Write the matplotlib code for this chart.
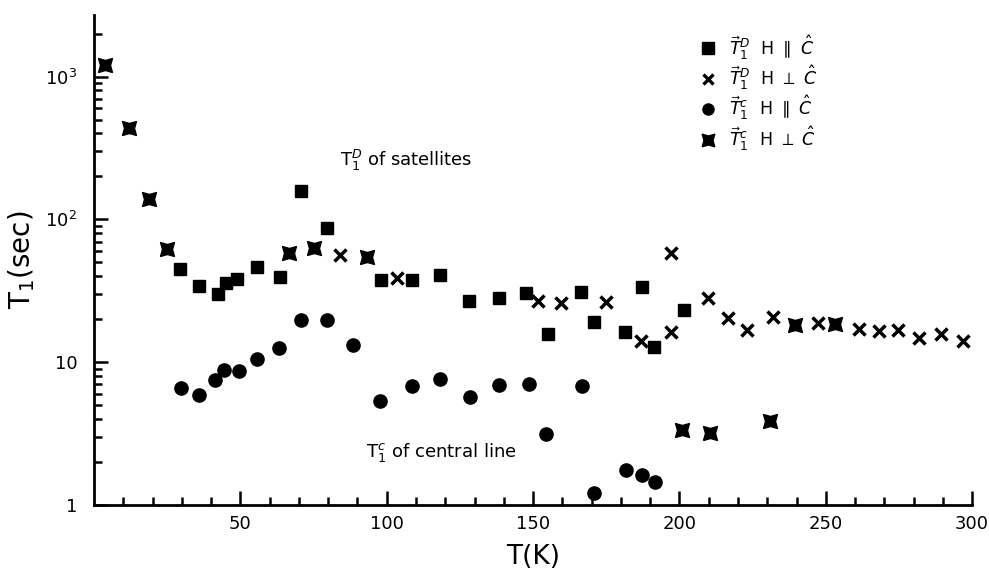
import matplotlib.pyplot as plt
from matplotlib.lines import Line2D

# T1^D, H || c  (squares)
t_sq = [29.3, 35.8, 42.3, 45.2, 48.8, 55.7, 63.6, 70.6, 79.6, 98.0, 108.8, 118.3,
        128.2, 138.2, 147.7, 155.2, 166.5, 170.7, 181.4, 187.3, 191.4, 201.6]
v_sq = [44.9, 34.3, 30.3, 36.1, 38.2, 46.5, 39.6, 158, 87.5, 37.6, 37.6, 40.7,
        26.7, 28.4, 30.8, 15.9, 31.1, 19.3, 16.2, 33.4, 12.7, 23.3]

# T1^D, H perp c  (crosses)
t_x = [84.2, 103.6, 151.8, 159.7, 175.0, 186.8, 197.1, 197.1, 209.7, 216.5, 223.0,
       231.8, 247.3, 261.4, 268.2, 274.6, 281.9, 289.5, 297.0]
v_x = [56.4, 38.8, 27.0, 26.2, 26.5, 14.0, 58.6, 16.2, 28.0, 20.3, 16.9,
       20.9, 18.8, 17.1, 16.6, 16.8, 14.9, 15.8, 14.2]

# T1^c, H || c  (circles)
t_ci = [29.9, 35.8, 41.2, 44.4, 49.4, 55.7, 63.3, 70.8, 79.6, 88.5, 97.8, 108.7,
        118.1, 128.6, 138.5, 148.7, 154.5, 166.7, 170.7, 181.8, 187.1, 191.6]
v_ci = [6.63, 5.86, 7.54, 8.89, 8.75, 10.6, 12.5, 19.8, 19.8, 13.2, 5.40, 6.80,
        7.6, 5.70, 6.99, 7.07, 3.13, 6.88, 1.21, 1.75, 1.62, 1.45]

# T1^c, H perp c  (bow-ties)
t_bt = [3.9, 12.0, 18.8, 25.0, 66.6, 75.1, 93.4, 201.0, 210.3, 231.0, 239.5, 253.0]
v_bt = [1208, 436, 140, 62.5, 58.6, 62.9, 54.9, 3.38, 3.20, 3.86, 18.3, 18.5]

xticks = [50, 100, 150, 200, 250, 300]
yticks = [1, 10, 100, 1000]
ylabels = ['1', '10', r'$10^2$', r'$10^3$']

# bow-tie marker: square with concave sides
bowtie = [(-1, -1), (0, -0.72), (1, -1), (0.72, 0), (1, 1), (0, 0.72), (-1, 1), (-0.72, 0), (-1, -1)]

fig = plt.figure(figsize=(9.89, 5.76), dpi=100)
ax = fig.add_axes([0.095, 0.123, 0.888, 0.851])

ax.plot(t_sq, v_sq, ls='none', marker='s', ms=9, color='black')
ax.plot(t_x, v_x, ls='none', marker='x', ms=8, mew=2.5, color='black')
ax.plot(t_ci, v_ci, ls='none', marker='o', ms=9.5, color='black')
ax.plot(t_bt, v_bt, ls='none', marker=bowtie, ms=10, color='black')

ax.set_yscale('log')
ax.set_xlim(0, 300)
ax.set_ylim(1, 2700)

ax.spines['top'].set_visible(False)
ax.spines['right'].set_visible(False)
ax.spines['left'].set_linewidth(2)
ax.spines['bottom'].set_linewidth(2)

ax.set_xticks(xticks)
ax.set_xticks(range(10, 300, 10), minor=True)
ax.set_yticks(yticks)
ax.set_yticklabels(ylabels)
ax.tick_params(which='both', direction='in', width=1.8, labelsize=13)
ax.tick_params(which='major', length=10)
ax.tick_params(which='minor', length=6)
ax.tick_params(axis='x', pad=7)
ax.tick_params(axis='y', pad=12)

ax.set_xlabel('T(K)', fontsize=19, labelpad=8)
ax.set_ylabel(r'T$_1$(sec)', fontsize=20, labelpad=6)

ax.text(84, 260, r'T$_1^D$ of satellites', fontsize=13, va='center')
ax.text(93, 2.35, r'T$_1^c$ of central line', fontsize=13, va='center')

handles = [
    Line2D([], [], ls='none', marker='s', ms=8, color='black'),
    Line2D([], [], ls='none', marker='x', ms=7, mew=2.4, color='black'),
    Line2D([], [], ls='none', marker='o', ms=8, color='black'),
    Line2D([], [], ls='none', marker=bowtie, ms=9, color='black'),
]
labels = [
    r'$\vec{T}_1^D$  H $\parallel$ $\hat{C}$',
    r'$\vec{T}_1^D$  H $\perp$ $\hat{C}$',
    r'$\vec{T}_1^c$  H $\parallel$ $\hat{C}$',
    r'$\vec{T}_1^c$  H $\perp$ $\hat{C}$',
]
fig.legend(handles, labels, loc='upper left', bbox_to_anchor=(0.7, 0.955),
           frameon=False, fontsize=12.5, handlelength=1.0, handletextpad=0.7,
           labelspacing=0.1, borderaxespad=0)

plt.savefig('out.png', dpi=100)
